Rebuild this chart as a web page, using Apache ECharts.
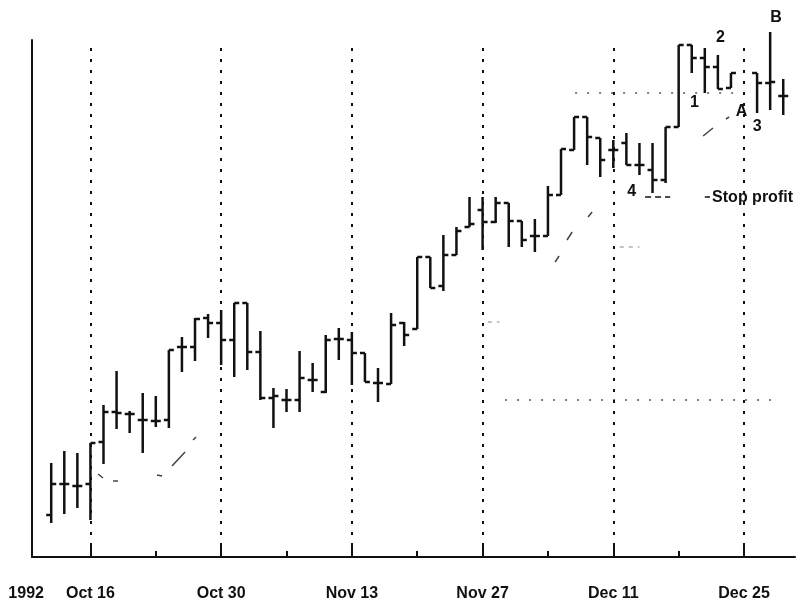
<!DOCTYPE html>
<html>
<head>
<meta charset="utf-8">
<script src="https://cdn.jsdelivr.net/npm/echarts@6/dist/echarts.min.js"></script>
<style>
  html, body { margin: 0; padding: 0; background: #fff; }
  #chart { width: 802px; height: 605px; }
</style>
</head>
<body>
<div id="chart"></div>
<script>
// Weekday calendar used for the horizontal axis (index = position on the axis)
const tradingWeekdays = [
  'Oct 12','Oct 13','Oct 14','Oct 15','Oct 16','Oct 19','Oct 20','Oct 21','Oct 22','Oct 23',
  'Oct 26','Oct 27','Oct 28','Oct 29','Oct 30','Nov 2','Nov 3','Nov 4','Nov 5','Nov 6',
  'Nov 9','Nov 10','Nov 11','Nov 12','Nov 13','Nov 16','Nov 17','Nov 18','Nov 19','Nov 20',
  'Nov 23','Nov 24','Nov 25','Nov 26','Nov 27','Nov 30','Dec 1','Dec 2','Dec 3','Dec 4',
  'Dec 7','Dec 8','Dec 9','Dec 10','Dec 11','Dec 14','Dec 15','Dec 16','Dec 17','Dec 18',
  'Dec 21','Dec 22','Dec 23','Dec 24','Dec 25','Dec 28','Dec 29','Dec 30','Dec 31'
];

// Daily price bars (open / high / low / close)
const barDates = [
  'Oct 13','Oct 14','Oct 15','Oct 16','Oct 19','Oct 20','Oct 21','Oct 22','Oct 23',
  'Oct 26','Oct 27','Oct 28','Oct 29','Oct 30','Nov 2','Nov 3','Nov 4','Nov 5','Nov 6',
  'Nov 9','Nov 10','Nov 11','Nov 12','Nov 13','Nov 16','Nov 17','Nov 18','Nov 19','Nov 20',
  'Nov 23','Nov 24','Nov 25','Nov 26','Nov 27','Nov 30','Dec 1','Dec 2','Dec 3','Dec 4',
  'Dec 7','Dec 8','Dec 9','Dec 10','Dec 11','Dec 14','Dec 15','Dec 16','Dec 17','Dec 18',
  'Dec 21','Dec 22','Dec 23','Dec 24','Dec 28','Dec 29','Dec 30'
];
const opens = [
  4.2, 7.3, 7.1, 7.3, 11.5, 14.5, 14.3, 13.7, 13.6,
  13.7, 21.0, 21.0, 23.9, 23.4, 21.7, 25.4, 20.5, 15.9, 15.7,
  15.7, 17.7, 16.5, 21.8, 21.7, 20.4, 17.4, 17.3, 23.4, 22.8,
  30.0, 27.1, 30.2, 33.0, 34.7, 33.5, 35.4, 33.6, 32.1, 32.1,
  36.2, 40.7, 44.0, 41.9, 40.7, 41.4, 39.2, 38.7, 37.7, 43.0,
  51.2, 49.9, 49.0, 46.9, 48.4, 47.4, 46.1
];
const highs = [
  9.4, 10.6, 10.4, 11.4, 15.2, 18.6, 14.6, 16.4, 16.1,
  20.7, 22.0, 23.9, 24.3, 24.7, 25.4, 25.4, 22.6, 16.9, 16.8,
  20.6, 19.4, 22.2, 22.9, 22.5, 20.4, 18.9, 24.4, 23.5, 30.0,
  30.0, 32.2, 33.0, 36.0, 36.0, 36.0, 35.4, 33.6, 33.8, 37.1,
  40.8, 44.0, 44.0, 41.9, 41.7, 42.4, 41.4, 41.4, 43.0, 51.2,
  51.2, 50.9, 50.2, 48.4, 48.4, 52.5, 47.8
];
const lows = [
  3.4, 4.3, 4.9, 3.7, 9.3, 12.8, 12.4, 10.4, 13.0,
  12.9, 18.5, 19.6, 21.9, 19.2, 18.0, 18.7, 15.7, 12.9, 14.5,
  14.5, 16.5, 16.4, 19.7, 17.2, 17.5, 15.5, 17.3, 21.1, 22.8,
  26.9, 26.6, 30.2, 33.0, 30.7, 33.4, 31.0, 31.0, 30.5, 32.1,
  36.2, 40.7, 39.2, 38.0, 38.9, 39.2, 38.2, 36.4, 37.4, 43.0,
  48.4, 46.4, 46.8, 46.9, 44.4, 44.7, 44.2
];
const closes = [
  7.3, 7.3, 7.1, 11.4, 14.5, 14.4, 14.3, 13.7, 13.6,
  20.7, 21.0, 23.8, 23.4, 21.7, 25.4, 20.5, 15.9, 16.1, 15.7,
  17.9, 17.7, 21.7, 21.8, 20.4, 17.5, 17.4, 23.2, 22.2, 30.0,
  26.9, 30.2, 32.6, 33.3, 33.5, 35.4, 33.6, 31.7, 32.1, 36.2,
  40.8, 44.0, 42.0, 39.7, 40.7, 39.2, 39.2, 37.7, 43.0, 51.2,
  49.9, 49.0, 46.8, 48.4, 47.4, 47.5, 46.1
];

// Axis labelling
const yearLabel = '1992';
const weekLabels = ['Oct 16', 'Oct 30', 'Nov 13', 'Nov 27', 'Dec 11', 'Dec 25'];
const midWeekTicks = ['Oct 23', 'Nov 6', 'Nov 20', 'Dec 4', 'Dec 18'];

// Faint trailing line, drawn as short broken pieces: [dayIndex, price]
const trailPieces = [
  [[4.58, 8.3], [4.96, 7.9]],
  [[5.73, 7.6], [6.11, 7.6]],
  [[9.09, 8.2], [9.48, 8.1]],
  [[10.24, 9.1], [11.24, 10.5]],
  [[11.85, 11.7], [12.08, 12.0]],
  [[39.55, 29.5], [39.85, 30.1]],
  [[40.46, 31.7], [40.85, 32.5]],
  [[42.07, 34.0], [42.38, 34.5]],
  [[50.87, 42.1], [51.63, 42.9]],
  [[52.62, 43.8], [52.86, 44.0]]
];

// Horizontal reference levels: [fromDayIndex, toDayIndex, price]
const resistanceLevel = [41.08, 54.08, 46.4];
const supportLevel = [35.72, 56.2, 15.7];
const stopLevelPieces = [[46.43, 48.35, 36.0], [51.0, 51.4, 36.0]];
const faintLevels = [[34.4, 35.3, 23.5], [44.5, 46.0, 31.0]];

// Chart annotations: [dayIndex, price, text]
const notes = [
  [50.2, 45.4, '1'],
  [52.2, 51.9, '2'],
  [53.8, 44.5, 'A'],
  [55.0, 43.0, '3'],
  [56.45, 53.9, 'B'],
  [45.4, 36.5, '4']
];
const stopNote = [51.56, 35.9, 'Stop profit'];

const dayIndex = d => tradingWeekdays.indexOf(d);
const ink = '#111';
const fontFamily = '"Liberation Sans", Arial, sans-serif';

const ohlcData = barDates.map((d, i) => [dayIndex(d), opens[i], highs[i], lows[i], closes[i]]);

function renderOhlc(params, api) {
  const x = api.value(0);
  const op = api.coord([x, api.value(1)]);
  const hi = api.coord([x, api.value(2)]);
  const lo = api.coord([x, api.value(3)]);
  const cl = api.coord([x, api.value(4)]);
  const tick = 5;
  const style = { stroke: ink, lineWidth: 2.5 };
  return {
    type: 'group',
    children: [
      { type: 'line', shape: { x1: hi[0], y1: hi[1], x2: lo[0], y2: lo[1] }, style },
      { type: 'line', shape: { x1: op[0] - tick, y1: op[1], x2: op[0], y2: op[1] }, style },
      { type: 'line', shape: { x1: cl[0], y1: cl[1], x2: cl[0] + tick, y2: cl[1] }, style }
    ]
  };
}

function levelSeries(level, lineStyle) {
  return {
    type: 'line', silent: true, symbol: 'none', animation: false,
    data: [[level[0], level[2]], [level[1], level[2]]],
    lineStyle
  };
}

const xMin = -0.47, xMax = 57.9;
const majorIdx = weekLabels.map(dayIndex);
const minorIdx = midWeekTicks.map(dayIndex);

const chart = echarts.init(document.getElementById('chart'), null, { renderer: 'canvas' });

const series = [
  {
    type: 'custom',
    name: 'Price',
    renderItem: renderOhlc,
    data: ohlcData,
    encode: { x: 0, y: [1, 2, 3, 4] },
    clip: false,
    animation: false,
    markLine: {
      silent: true,
      symbol: 'none',
      label: { show: false },
      lineStyle: { color: ink, width: 2, type: [3, 8] },
      data: majorIdx.map(v => ({ xAxis: v }))
    }
  },
  levelSeries(resistanceLevel, { color: '#555', width: 1.5, type: [2, 10] }),
  levelSeries(supportLevel, { color: '#555', width: 1.5, type: [2, 10] }),
  ...stopLevelPieces.map(l => levelSeries(l, { color: ink, width: 1.5, type: [6, 4] })),
  ...faintLevels.map(l => levelSeries(l, { color: '#888', width: 1.2, type: [4, 5] })),
  ...trailPieces.map(piece => ({
    type: 'line', silent: true, symbol: 'none', animation: false,
    data: piece,
    lineStyle: { color: '#444', width: 1.5 }
  })),
  {
    type: 'scatter',
    silent: true,
    clip: false,
    symbolSize: 0,
    itemStyle: { color: ink, opacity: 1 },
    animation: false,
    label: {
      show: true, position: 'inside', formatter: p => p.value[2],
      color: ink, opacity: 1, fontSize: 16, fontWeight: 'bold', fontFamily
    },
    data: [
      ...notes,
      { value: stopNote, label: { align: 'left' } }
    ]
  }
];

chart.setOption({
  backgroundColor: '#fff',
  animation: false,
  grid: { left: 32, right: 7, top: 40, bottom: 48 },
  xAxis: [
    {
      type: 'value', min: xMin, max: xMax, position: 'bottom',
      axisLine: { show: true, onZero: false, lineStyle: { color: ink, width: 2 } },
      axisTick: { show: true, inside: true, length: 12, lineStyle: { color: ink, width: 2 }, customValues: majorIdx },
      axisLabel: {
        show: true, customValues: [0, ...majorIdx], margin: 29,
        color: ink, fontSize: 16, fontWeight: 'bold', fontFamily,
        formatter: v => (v === 0 ? '{yr|' + yearLabel + '}' : tradingWeekdays[v]),
        rich: { yr: { padding: [0, 24, 0, 0], color: ink, fontSize: 16, fontWeight: 'bold', fontFamily } }
      },
      splitLine: { show: false }
    },
    {
      type: 'value', min: xMin, max: xMax, position: 'bottom',
      axisLine: { show: false, onZero: false },
      axisTick: { show: true, inside: true, length: 6, lineStyle: { color: ink, width: 2 }, customValues: minorIdx },
      axisLabel: { show: false },
      splitLine: { show: false }
    }
  ],
  yAxis: {
    type: 'value', min: 0, max: 51.7,
    axisLine: { show: true, onZero: false, lineStyle: { color: ink, width: 2 } },
    axisTick: { show: false },
    axisLabel: { show: false },
    splitLine: { show: false }
  },
  series
});
</script>
</body>
</html>
